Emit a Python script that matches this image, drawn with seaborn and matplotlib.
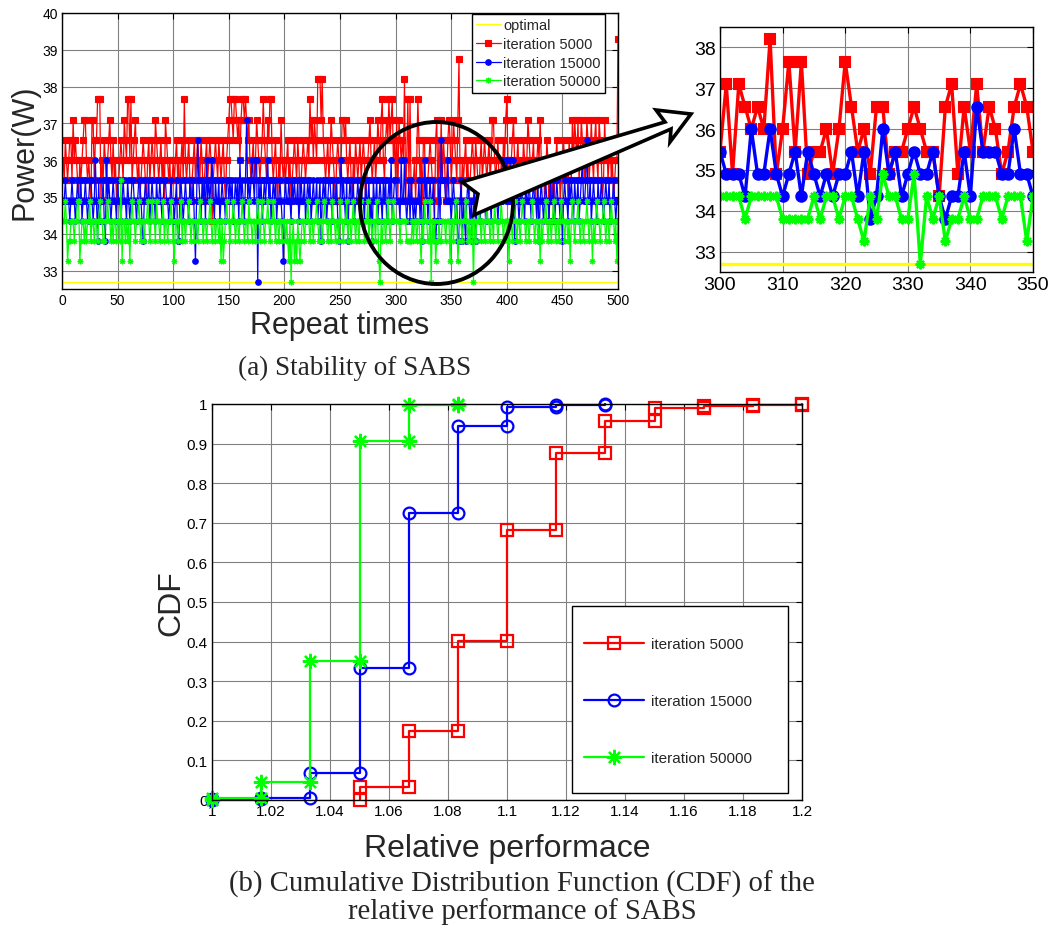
import numpy as np
import matplotlib
matplotlib.use("Agg")
import matplotlib.pyplot as plt
import seaborn as sns
from matplotlib.lines import Line2D
from matplotlib.patches import Ellipse, Polygon, Rectangle
from matplotlib.ticker import FuncFormatter

sns.set_style("white")
plt.rcParams["font.family"] = ["Liberation Sans", "DejaVu Sans"]

# ---------------------------------------------------------------------------
# Data
# ---------------------------------------------------------------------------
# Discrete power levels (W) reached by SABS; each series stores level indices
# (hex digit per repeat, 0 -> 32.7 W ... c -> 39.3 W).
POWER_LEVELS = [32.7, 33.25, 33.8, 34.35, 34.9, 35.45, 36.0,
                36.55, 37.1, 37.65, 38.2, 38.75, 39.3]
OPTIMAL_POWER = 32.7
REPEATS = list(range(1, 501))

ITER_5000_LEVELS = (
    "6576567758" "6765465678" "8656548857" "7999465765" "6786575645"
    "5676587699" "6956786564" "5676546756" "7658765675" "6487656456"
    "5675646759" "6567545675" "6765764567" "5676356765" "7656754678"
    "9987998786" "8998987865" "6756876567" "9765879965" "6754658656"
    "5675645676" "5764567656" "769786876a" "aa8a765675" "6876546765"
    "6887865675" "4657656756" "7645678656" "7568768965" "787978967"
    "58487676a4" "6959455646" "9756477455" "6765537847" "5857645787" "5"
    "687658b546" "5675645676" "5765467567" "6567568865" "6754657689"
    "6546786567" "5645765687" "6567546768" "6564576354" "6356756456"
    "7656476586" "8768568765" "6875686578" "6587645867" "567564566c"
)
ITER_15000_LEVELS = (
    "4454443454" "4345445344" "5434554346" "4253445326" "4543454435"
    "4434544354" "3455443455" "4324544534" "5443544543" "4554434544"
    "3452245434" "5443544531" "4754354536" "4545643544" "5345443554"
    "5453454536" "4543584545" "6546605453" "4545645345" "4534454314"
    "5445435454" "4534544534" "5453454453" "4524545345" "5435445324"
    "6454352454" "4534454354" "4354453425" "4453454354" "534546345"
    "5444364464" "3453543434" "4535236453" "4544532335" "3755544644" "3"
    "4543422452" "4324543424" "5244534454" "3454435445" "4345446546"
    "4564562454" "3454435445" "4345443524" "5434544354" "4534544342"
    "4544354543" "5445345644" "5744534544" "3544543454" "4534454344"
)
ITER_50000_LEVELS = (
    "3343122333" "2334412332" "3233423323" "3234332233" "4332323323"
    "3251332323" "1343323343" "2332334323" "4332433233" "4233233432"
    "1332334233" "2334323323" "3234332332" "3343233233" "2313123433"
    "2334323323" "3432332433" "2332343234" "3233432334" "3233233233"
    "2321302312" "1321233233" "4323323343" "2332343323" "3243323324"
    "3323342332" "3432332343" "3233423323" "3243103233" "234323343"
    "3333233333" "2222232332" "3321324332" "2403231223" "2233323331" "3"
    "3234312332" "3343232330" "3233432332" "3433233243" "3233432332"
    "3133234323" "3234332332" "3343233231" "3233432332" "3432332343"
    "3233231343" "2334323323" "3432331323" "4332334323" "3234332313"
)

# Relative performance of each power level and the empirical CDF at it
REL_PERF = [1.0, 1.0167, 1.0333, 1.05, 1.0667, 1.0833, 1.1,
            1.1167, 1.1333, 1.15, 1.1667, 1.1833, 1.2]
CDF_5000 = [0.0, 0.0, 0.0, 0.033, 0.173, 0.402, 0.682,
            0.877, 0.958, 0.991, 0.996, 0.998, 1.0]
CDF_15000 = [0.002, 0.004, 0.068, 0.333, 0.725, 0.944, 0.992,
             0.998, 1.0, 1.0, 1.0, 1.0, 1.0]
CDF_50000 = [0.006, 0.046, 0.352, 0.906, 0.998, 1.0, 1.0,
             1.0, 1.0, 1.0, 1.0, 1.0, 1.0]

LABELS = ["iteration 5000", "iteration 15000", "iteration 50000"]
COLORS = ["#ff0000", "#0000ff", "#00ff00"]
ASTERISK = (8, 2, 0)


def decode(levels):
    return [POWER_LEVELS[int(c, 16)] for c in levels]


power = [decode(s) for s in (ITER_5000_LEVELS, ITER_15000_LEVELS, ITER_50000_LEVELS)]


def cdf_steps(xs, cdf):
    """Vertices of a staircase CDF with a marker at every corner."""
    start = next(i for i, v in enumerate(cdf) if v > 0)
    last = next(i for i, v in enumerate(cdf) if v >= 1.0)
    vx = [xs[start]]
    vy = [cdf[start - 1] if start > 0 else 0.0]
    for k in range(start, last + 1):
        vx.append(xs[k]); vy.append(cdf[k])
        if k < last:
            vx.append(xs[k + 1]); vy.append(cdf[k])
    return vx, vy


# ---------------------------------------------------------------------------
# Figure
# ---------------------------------------------------------------------------
W, H = 1051, 929
fig = plt.figure(figsize=(W / 100, H / 100), dpi=100)


def px_rect(left, top, right, bottom):
    return [left / W, 1 - bottom / H, (right - left) / W, (bottom - top) / H]


def fig_xy(x, y):
    return (x / W, 1 - y / H)


def matlab_axes(ax, tick_size):
    ax.set_axisbelow(True)
    ax.grid(True, color="#808080", lw=0.8)
    for s in ax.spines.values():
        s.set_visible(True)
        s.set_color("black")
        s.set_linewidth(1.0)
    ax.tick_params(direction="in", top=True, right=True, length=4,
                   width=0.8, labelsize=tick_size, colors="black", pad=3)


# (a) power over repeats -----------------------------------------------------
ax1 = fig.add_axes(px_rect(62, 14, 618, 290))
ax1.axhline(OPTIMAL_POWER, color="#ffff00", lw=1.0, zorder=2)
main_markers = [dict(marker="s", ms=4.0), dict(marker="o", ms=4.0),
                dict(marker=ASTERISK, ms=4.0)]
for y, c, mk in zip(power, COLORS, main_markers):
    sns.lineplot(x=REPEATS, y=y, ax=ax1, color=c, lw=0.9, sort=False,
                 estimator=None, mfc=c, mec=c, mew=0.8, **mk)
ax1.set_xlim(0, 500)
ax1.set_ylim(32.5, 40)
ax1.set_xticks(range(0, 501, 50))
ax1.set_yticks(range(33, 41))
matlab_axes(ax1, 10)
ax1.set_xlabel("Repeat times", fontsize=22, labelpad=2)
ax1.set_ylabel("Power(W)", fontsize=22, labelpad=2)

handles = [Line2D([], [], color="#ffff00", lw=1.0)]
for c, mk in zip(COLORS, main_markers):
    handles.append(Line2D([], [], color=c, lw=0.9, mfc=c, mec=c, mew=0.8, **mk))
leg1 = ax1.legend(handles, ["optimal"] + LABELS, loc="upper right",
                  bbox_to_anchor=fig_xy(605, 15),
                  bbox_transform=fig.transFigure, borderaxespad=0,
                  fontsize=10.5, handlelength=1.7, handletextpad=0.15,
                  labelspacing=0.32, borderpad=0.3, fancybox=False,
                  framealpha=1, edgecolor="black")
leg1.get_frame().set_linewidth(1.0)

# zoomed view of repeats 300-350 ----------------------------------------------
ax2 = fig.add_axes(px_rect(720, 28, 1033, 273))
ax2.axhline(OPTIMAL_POWER, color="#ffff00", lw=2.4, zorder=2)
zoom_markers = [dict(marker="s", ms=6.5), dict(marker="o", ms=7.5),
                dict(marker=ASTERISK, ms=7.0)]
for y, c, mk in zip(power, COLORS, zoom_markers):
    sns.lineplot(x=REPEATS[295:355], y=y[295:355], ax=ax2, color=c, lw=2.4,
                 sort=False, estimator=None, mfc=c, mec=c, mew=1.5, **mk)
ax2.set_xlim(300, 350)
ax2.set_ylim(32.5, 38.5)
ax2.set_xticks(range(300, 351, 10))
ax2.set_yticks(range(33, 39))
matlab_axes(ax2, 14)

# highlight circle and arrow linking the two views
fig.add_artist(Ellipse(fig_xy(436.5, 204), 153 / W, 162 / H,
                       transform=fig.transFigure, fill=False,
                       edgecolor="black", lw=2.8, zorder=5))
arrow_px = [(462, 183), (665, 123), (656, 111), (691, 115),
            (670, 143), (671, 130), (474, 216), (478, 195)]
fig.add_artist(Polygon([fig_xy(x, y) for x, y in arrow_px],
                       closed=True, transform=fig.transFigure,
                       facecolor="white", edgecolor="black", lw=2.6,
                       joinstyle="miter", zorder=6))

fig.text(355 / W, 1 - 368 / H, "(a) Stability of SABS", ha="center",
         va="center", family="Liberation Serif", fontsize=19.5)

# (b) CDF of relative performance --------------------------------------------
ax3 = fig.add_axes(px_rect(212, 405, 802, 801))
cdf_markers = [dict(marker="s", ms=8.5), dict(marker="o", ms=8.5),
               dict(marker=ASTERISK, ms=11)]
for cdf, c, mk in zip((CDF_5000, CDF_15000, CDF_50000), COLORS, cdf_markers):
    vx, vy = cdf_steps(REL_PERF, cdf)
    sns.lineplot(x=vx, y=vy, ax=ax3, color=c, lw=1.6, sort=False,
                 estimator=None, mfc="none", mec=c, mew=1.6, clip_on=False,
                 **mk)
ax3.set_xlim(1.0, 1.2)
ax3.set_ylim(0, 1)
ax3.set_xticks(np.linspace(1.0, 1.2, 11))
ax3.set_yticks(np.linspace(0, 1, 11))
fmt = FuncFormatter(lambda v, _: f"{v:.2f}".rstrip("0").rstrip("."))
ax3.xaxis.set_major_formatter(fmt)
ax3.yaxis.set_major_formatter(fmt)
matlab_axes(ax3, 11)
ax3.set_xlabel("Relative performace", fontsize=23, labelpad=11)
ax3.set_ylabel("CDF", fontsize=23, labelpad=0)

# legend box with wide vertical spacing, as drawn by MATLAB
box_l, box_t, box_r, box_b = 572, 607, 788, 794
ax3.add_patch(Rectangle(fig_xy(box_l, box_b), (box_r - box_l) / W,
                        (box_b - box_t) / H, transform=fig.transFigure,
                        facecolor="white", edgecolor="black", lw=1.0,
                        zorder=4.9, clip_on=False))
handles3 = [Line2D([], [], color=c, lw=1.6, mfc="none", mec=c, mew=1.6, **mk)
            for c, mk in zip(COLORS, cdf_markers)]
leg3 = ax3.legend(handles3, LABELS, loc="upper left",
                  bbox_to_anchor=fig_xy(584, 638),
                  bbox_transform=fig.transFigure, borderaxespad=0,
                  fontsize=11, handlelength=3.9, handletextpad=0.5,
                  labelspacing=2.83, borderpad=0, frameon=False)
leg3.set_zorder(5)

fig.text(522 / W, 1 - 884 / H,
         "(b) Cumulative Distribution Function (CDF) of the",
         ha="center", va="center", family="Liberation Serif", fontsize=20.7)
fig.text(522 / W, 1 - 912 / H, "relative performance of SABS",
         ha="center", va="center", family="Liberation Serif", fontsize=20.7)

fig.savefig("out.png", dpi=100, facecolor="white")
